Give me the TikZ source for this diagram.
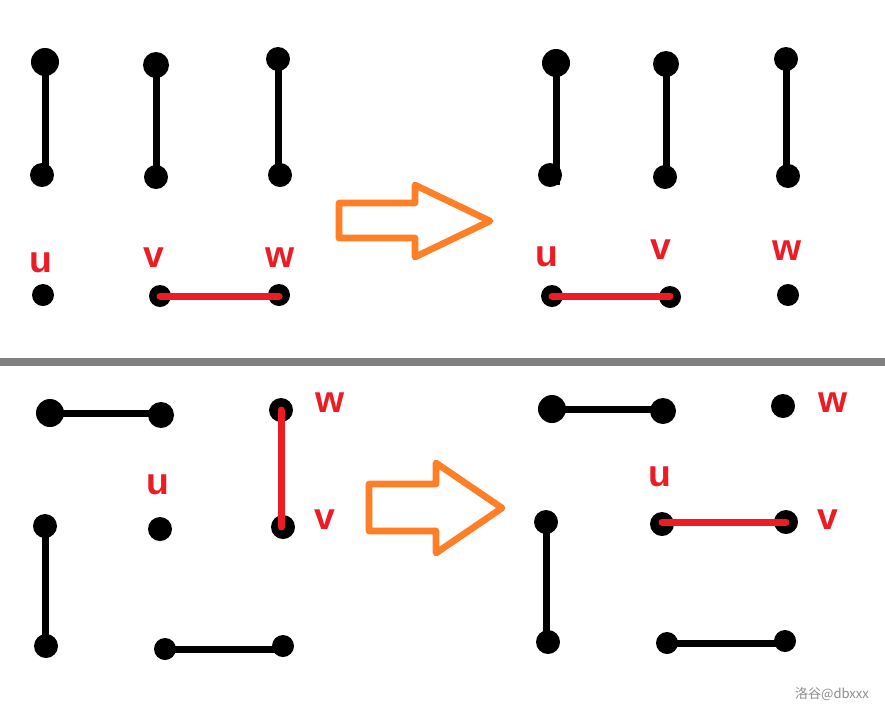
\documentclass[tikz,border=0pt]{standalone}
\usepackage{fontspec}
\setmainfont{Liberation Sans}
\newfontfamily\cjkwm{Noto Sans CJK SC}
\definecolor{pred}{HTML}{ED1C24}
\definecolor{porange}{HTML}{FF7F27}
\definecolor{pgray}{HTML}{808080}
\definecolor{wmgray}{HTML}{8C8C8C}
\begin{document}
\begin{tikzpicture}[x=0.75pt,y=-0.75pt,
  dot/.style={circle,fill=black,draw=none,inner sep=0pt,minimum size=#1*1.5pt},
  edge/.style={line width=5.25pt,black},
  redge/.style={line width=5.25pt,pred,line cap=round},
  lab/.style={text=pred,font=\fontsize{28}{30}\selectfont\bfseries,inner sep=0pt,anchor=center},
  bigarrow/.style={draw=porange,line width=5pt,line join=round,fill=none}]
\useasboundingbox (0,0) rectangle (885,715);
\fill[white] (0,0) rectangle (885,715);

% ---------- top left ----------
\node[dot=14] (tA1) at (45,62) {};
\node[dot=12] (tA2) at (42,175) {};
\node[dot=13] (tB1) at (156,65) {};
\node[dot=12] (tB2) at (156,177) {};
\node[dot=12] (tC1) at (278,59) {};
\node[dot=12] (tC2) at (280,175) {};
\node[dot=11] (tu) at (43,295) {};
\node[dot=11] (tv) at (160,296) {};
\node[dot=11] (tw) at (279,295) {};
\draw[edge] (tA1.center) -- (tA1.center |- tA2.center);
\draw[edge] (tB1.center) -- (tB1.center |- tB2.center);
\draw[edge] (tC1.center) -- (tC1.center |- tC2.center);
\draw[redge] (tv.center) -- (tv.center -| tw.center);
\node[lab] (tlu) at (41,263) {u};
\node[lab] (tlv) at (154,258) {v};
\node[lab] (tlw) at (280,258) {w};

% ---------- top arrow ----------
\draw[bigarrow] (339,203) -- (415,203) -- (415,185) -- (490,221) -- (415,257) -- (415,238) -- (339,238) -- cycle;

% ---------- top right ----------
\node[dot=14] (rA1) at (556,63) {};
\node[dot=12] (rA2) at (550,175) {};
\coordinate (rAend) at (556,185);
\node[dot=13] (rB1) at (666,64) {};
\node[dot=12] (rB2) at (665,177) {};
\node[dot=12] (rC1) at (786,59) {};
\node[dot=12] (rC2) at (788,176) {};
\node[dot=11] (ru) at (552,296) {};
\node[dot=11] (rv) at (670,297) {};
\node[dot=11] (rw) at (788,295) {};
\draw[edge] (rA1.center) -- (rAend);
\draw[edge] (rB1.center) -- (rB1.center |- rB2.center);
\draw[edge] (rC1.center) -- (rC1.center |- rC2.center);
\draw[redge] (ru.center) -- (ru.center -| rv.center);
\node[lab] (rlu) at (547,257) {u};
\node[lab] (rlv) at (661,250) {v};
\node[lab] (rlw) at (787,251) {w};

% ---------- divider ----------
\coordinate (divL) at (0,362);
\coordinate (divR) at (885,362);
\draw[pgray,line width=6pt] (divL) -- (divR);

% ---------- bottom left ----------
\node[dot=14] (bA1) at (50,413) {};
\node[dot=13] (bA2) at (161,415) {};
\node[dot=12] (bw) at (281,410) {};
\node[dot=12] (bv) at (283,527) {};
\node[dot=12] (bu) at (160,529) {};
\node[dot=12] (bL1) at (45,526) {};
\node[dot=12] (bL2) at (46,646) {};
\node[dot=11] (bH1) at (165,649) {};
\node[dot=11] (bH2) at (283,646) {};
\draw[edge] (bA1.center) -- (bA1.center -| bA2.center);
\draw[edge] (bL1.center) -- (bL1.center |- bL2.center);
\draw[edge] (bH1.center) -- (bH1.center -| bH2.center);
\draw[redge] (bw.center) -- (bw.center |- bv.center);
\node[lab] (blw) at (330,403) {w};
\node[lab] (blv) at (325,520) {v};
\node[lab] (blu) at (158,485) {u};

% ---------- bottom arrow ----------
\draw[bigarrow] (369,484) -- (436,484) -- (436,463) -- (502,508) -- (436,553) -- (436,531) -- (369,531) -- cycle;

% ---------- bottom right ----------
\node[dot=14] (cA1) at (552,409) {};
\node[dot=13] (cA2) at (663,411) {};
\node[dot=12] (cw) at (783,406) {};
\node[dot=12] (cu) at (662,524) {};
\node[dot=12] (cv) at (786,522) {};
\node[dot=12] (cL1) at (546,522) {};
\node[dot=12] (cL2) at (548,642) {};
\node[dot=11] (cH1) at (667,643) {};
\node[dot=11] (cH2) at (785,641) {};
\draw[edge] (cA1.center) -- (cA1.center -| cA2.center);
\draw[edge] (cL1.center) -- (cL1.center |- cL2.center);
\draw[edge] (cH1.center) -- (cH1.center -| cH2.center);
\draw[redge] (cu.center |- cv.center) -- (cv.center);
\node[lab] (clw) at (833,403) {w};
\node[lab] (clv) at (828,520) {v};
\node[lab] (clu) at (660,477) {u};

% ---------- watermark ----------
\node[text=wmgray,font=\cjkwm\fontsize{9.8}{11}\selectfont,inner sep=0pt] (wm) at (832,694) {洛谷@dbxxx};
\end{tikzpicture}
\end{document}
